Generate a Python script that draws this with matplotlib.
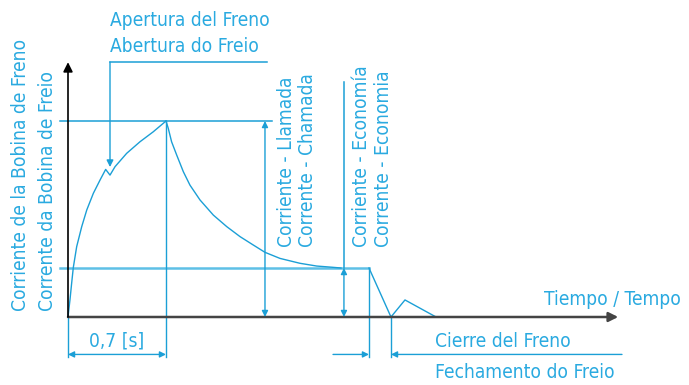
import matplotlib.pyplot as plt

# curve of the brake coil current
# time in seconds, current relative to the pull-in current
t_rise = [0, 0.014, 0.026, 0.038, 0.062, 0.098, 0.134, 0.181, 0.229, 0.269,
          0.300, 0.336, 0.419, 0.514, 0.609, 0.70]
i_rise = [0, 0.087, 0.172, 0.253, 0.359, 0.461, 0.546, 0.631, 0.699, 0.753,
          0.724, 0.767, 0.835, 0.894, 0.945, 1.0]
t_decay = [0.70, 0.716, 0.740, 0.776, 0.824, 0.871, 0.943, 1.038, 1.134,
           1.229, 1.324, 1.407, 1.514, 1.657, 1.776, 1.884, 1.95]
i_decay = [1.0, 0.963, 0.894, 0.827, 0.741, 0.673, 0.597, 0.520, 0.461,
           0.410, 0.367, 0.330, 0.299, 0.274, 0.260, 0.254, 0.25]
t_off = [2.15, 2.307, 2.407, 2.629]
i_off = [0.25, 0, 0.087, 0]

I_PULL = 1.0
I_ECON = 0.25
T_OPEN = 0.7

CY = '#1b9fd6'
TXT = '#2aaae0'
FONT = ['DejaVu Sans']
FS = 13.8

fig = plt.figure(figsize=(6.89, 3.85), dpi=100)
ax = fig.add_axes([0, 0, 1, 1])
ax.set_xlim(-68 / 140, 621 / 140)
ax.set_ylim(-68 / 196, 317 / 196)
ax.axis('off')


def arrow(x0, y0, x1, y1, style='-|>', color=CY, lw=1.0, ms=9):
    ax.annotate('', xy=(x1, y1), xytext=(x0, y0),
                arrowprops=dict(arrowstyle=style, color=color, lw=lw,
                                mutation_scale=ms, shrinkA=0, shrinkB=0))


def txt(x, y, s, rot=0, ha='left'):
    ax.text(x, y, s, color=TXT, fontsize=FS, family=FONT, rotation=rot,
            fontstretch='condensed', fontweight='light',
            rotation_mode='anchor', ha=ha, va='baseline')


# axes
arrow(0, 0, 3.93, 0, color='#444444', lw=1.8, ms=14)
arrow(0, 0, 0, 1.30, color='black', lw=1.2, ms=14)

# levels
ax.plot([-0.057, 1.457], [I_PULL, I_PULL], color=CY, lw=1.1)
ax.plot([-0.057, 2.15], [I_ECON, I_ECON], color='#5ec0e6', lw=1.8)

# current curve
ax.plot(t_rise, i_rise, color=CY, lw=1.0)
ax.plot(t_decay, i_decay, color=CY, lw=1.0)
ax.plot(t_off, i_off, color=CY, lw=1.0)

# brake opening pointer
ax.plot([0.3, 1.421], [1.301, 1.301], color=CY, lw=1.1)
arrow(0.3, 1.301, 0.3, 0.765, ms=10)
txt(0.3, 1.485, 'Apertura del Freno')
txt(0.3, 1.352, 'Abertura do Freio')

# pull-in current dimension
arrow(1.407, 0, 1.407, I_PULL, style='<|-|>', ms=9)
txt(1.60, 0.359, 'Corriente - Llamada', rot=90)
txt(1.75, 0.359, 'Corrente - Chamada', rot=90)

# economy current dimension
ax.plot([1.971, 1.971], [I_ECON, 1.199], color=CY, lw=1.1)
arrow(1.971, 0, 1.971, I_ECON, style='<|-|>', ms=9)
txt(2.133, 0.359, 'Corriente - Economía', rot=90)
txt(2.29, 0.359, 'Corrente - Economia', rot=90)

# y label
txt(-0.30, 0.031, 'Corriente de la Bobina de Freno', rot=90)
txt(-0.107, 0.031, 'Corrente da Bobina de Freio', rot=90)

txt(4.379, 0.061, 'Tiempo / Tempo', ha='right')

# 0,7 s dimension
ax.plot([0, 0], [0, -0.204], color=CY, lw=1.0)
ax.plot([T_OPEN, T_OPEN], [I_PULL, -0.204], color=CY, lw=1.0)
arrow(0, -0.191, T_OPEN, -0.191, style='<|-|>', ms=9)
txt(T_OPEN / 2, -0.153, '0,7 [s]', ha='center')

# brake closing dimension
ax.plot([2.15, 2.15], [I_ECON, -0.204], color=CY, lw=1.0)
ax.plot([2.307, 2.307], [0, -0.204], color=CY, lw=1.0)
arrow(1.893, -0.191, 2.15, -0.191, ms=9)
arrow(3.957, -0.191, 2.307, -0.191, ms=9)
txt(2.621, -0.153, 'Cierre del Freno')
txt(2.621, -0.311, 'Fechamento do Freio')

fig.savefig('out.png', dpi=100)
